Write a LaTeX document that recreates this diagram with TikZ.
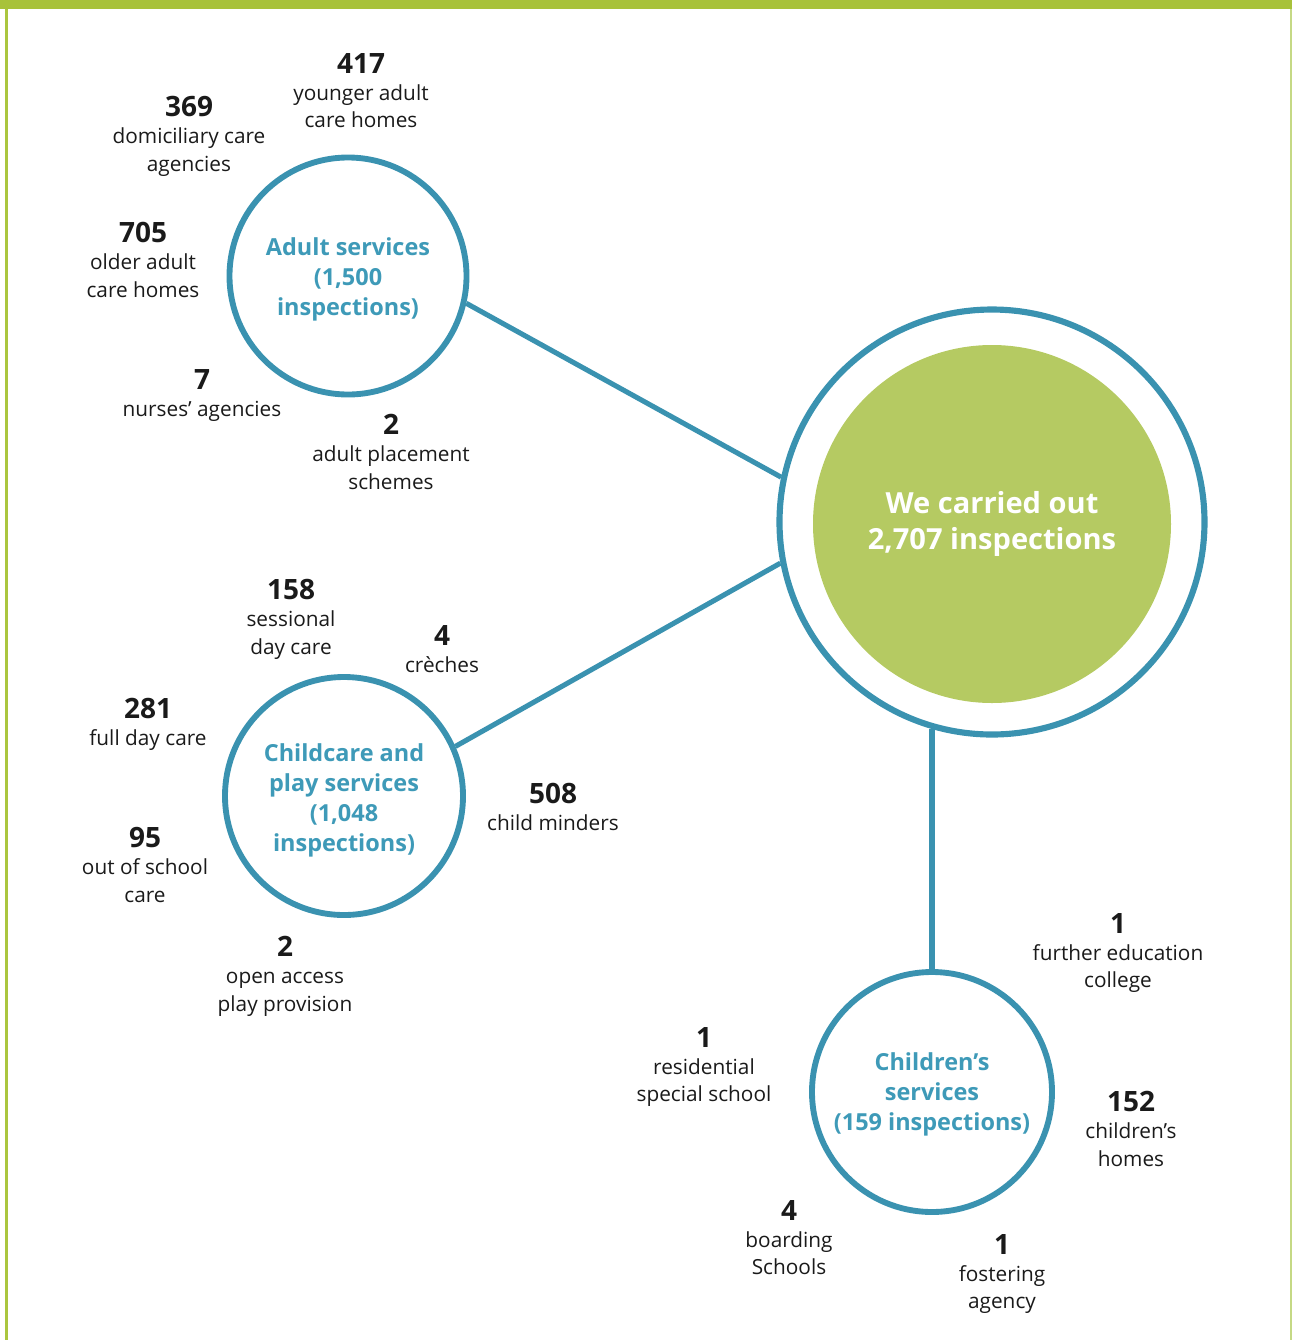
\documentclass[tikz,border=0pt]{standalone}
\usepackage{fontspec}
\setmainfont{Open Sans}
\definecolor{teal1}{HTML}{3A92B0}
\definecolor{tealtxt}{HTML}{3E9AB8}
\definecolor{green1}{HTML}{B5CA62}
\definecolor{bar}{HTML}{A8C23A}
\definecolor{edge}{HTML}{ABC63F}
\definecolor{edgelight}{HTML}{C5D985}
\definecolor{ink}{HTML}{1A1A1A}
\begin{document}
\begin{tikzpicture}[x=0.75pt,y=-0.75pt,
  lbl/.style={align=center,anchor=north,inner sep=0pt,text=ink,font=\fontsize{15.6}{20.5}\selectfont},
  svc/.style={circle,draw=teal1,line width=4.4pt,fill=white,inner sep=0pt,align=center,text=tealtxt,
    font=\bfseries\fontsize{17.6}{22.5}\selectfont},
  link/.style={draw=teal1,line width=3.8pt}]
\newcommand{\num}[1]{{\bfseries\fontsize{21}{20.5}\selectfont #1}}
\useasboundingbox (0,0) rectangle (1292,1340);
% frame
\fill[bar] (0,0) rectangle (1292,9);
\fill[edge] (5,9) rectangle (8,1340);
\fill[edgelight] (1290,9) rectangle (1292,1340);
% main
\node[circle,draw=teal1,line width=4.6pt,minimum size=425*0.75pt,inner sep=0pt] (main) at (992,522) {};
\node[circle,fill=green1,minimum size=358*0.75pt,inner sep=0pt,align=center,text=white,
  font=\bfseries\fontsize{21.8}{27}\selectfont] (core) at (992,524) {We carried out\\2,707 inspections};
% service circles
\node[svc,minimum size=237*0.75pt] (adult) at (348,276) {\rule{0pt}{18pt}Adult services\\(1,500\\inspections)};
\node[svc,minimum size=238*0.75pt] (child) at (344,796) {\rule{0pt}{19.5pt}Childcare and\\play services\\(1,048\\inspections)};
\node[svc,minimum size=240*0.75pt] (kids) at (932,1092) {\rule{0pt}{16.5pt}Children’s\\services\\(159 inspections)};
% connectors
\draw[link] (adult.-13.7) -- (main.168.2);
\draw[link] (child.24.2) -- (main.191.4);
\draw[link] (kids.north) -- (kids.north |- main.254);
% adult labels
\node[lbl] (a1) at (361,53) {\num{417}\\younger adult\\care homes};
\node[lbl] (a2) at (189,96) {\num{369}\\domiciliary care\\agencies};
\node[lbl] (a3) at (143,222) {\num{705}\\older adult\\care homes};
\node[lbl] (a4) at (202,369) {\num{7}\\nurses’ agencies};
\node[lbl] (a5) at (391,414) {\num{2}\\adult placement\\schemes};
% childcare labels
\node[lbl] (c1) at (291,579) {\num{158}\\sessional\\day care};
\node[lbl] (c2) at (442,625) {\num{4}\\crèches};
\node[lbl] (c3) at (148,698) {\num{281}\\full day care};
\node[lbl] (c4) at (553,783) {\num{508}\\child minders};
\node[lbl] (c5) at (145,827) {\num{95}\\out of school\\care};
\node[lbl] (c6) at (285,936) {\num{2}\\open access\\play provision};
% children's labels
\node[lbl] (k1) at (1118,913) {\num{1}\\further education\\college};
\node[lbl] (k2) at (704,1027) {\num{1}\\residential\\special school};
\node[lbl] (k3) at (1131,1091) {\num{152}\\children’s\\homes};
\node[lbl] (k4) at (789,1200) {\num{4}\\boarding\\Schools};
\node[lbl] (k5) at (1002,1234) {\num{1}\\fostering\\agency};
\end{tikzpicture}
\end{document}
